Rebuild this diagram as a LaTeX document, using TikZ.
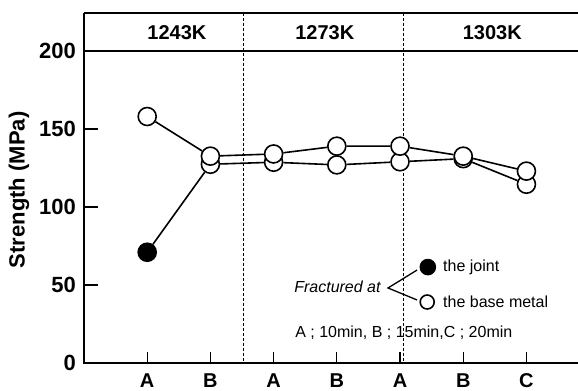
\documentclass[tikz,border=0pt]{standalone}
\usepackage{fontspec}
\setmainfont{Liberation Sans}
\begin{document}
\begin{tikzpicture}[x=63.2pt, y=1.56pt,
    opn/.style={circle, draw, line width=1.6pt, fill=white, minimum size=18pt, inner sep=0pt},
    sld/.style={opn, fill=black},
    big/.style={font=\bfseries\fontsize{22}{26}\selectfont},
    mid/.style={font=\bfseries\fontsize{20}{24}\selectfont},
    sml/.style={font=\fontsize{16}{19}\selectfont}]
  \useasboundingbox (-1.329,-17.31) rectangle (7.816,232.69);

  % Draw frame:
  % The axes and the header band run out to the right edge.
  \draw[line width=2.4pt] (0,224.4) -- (0,0) -- (7.816,0);
  \draw[line width=2.4pt] (0,224.4) -- (7.816,224.4);
  \draw[line width=2.4pt] (0,200) -- (7.816,200);
  % Temperature separators
  \draw[line width=0.8pt, dash pattern=on 3pt off 2pt] (2.52,224.4) -- (2.52,0);
  \draw[line width=0.8pt, dash pattern=on 3pt off 2pt] (5.05,224.4) -- (5.05,0);

  % Header labels
  \node[mid] (h1) at (1.47,211.5) {1243K};
  \node[mid] (h2) at (3.81,211.5) {1273K};
  \node[mid] (h3) at (6.46,211.5) {1303K};

  % Draw y-axis ticks and labels (in MPa)
  \foreach \y in {0,50,100,150} {
    \draw[line width=1.2pt] (0,\y) -- (0.22,\y);
  }
  \foreach \y in {0,50,100,150,200} {
    \node[big, anchor=east, inner sep=0pt] (t\y) at (-0.125,\y) {\y};
  }
  \node[big, rotate=90] (ylab) at (-1.03,111) {Strength (MPa)};

  % Draw x-axis ticks (holding time)
  \foreach \x/\t in {1/A,2/B,3/A,4/B,5/A,6/B,7/C} {
    \draw[line width=1.2pt] (\x,0) -- (\x,7);
    \node[mid] (x\x) at (\x,-11) {\t};
  }

  % Data points: (time, strength in MPa)
  \node[sld] (j1) at (1,71) {};      % fractured at the joint
  \foreach \x/\v in {2/127.4,3/128.7,4/127,5/129,6/131,7/114.6} {
    \node[opn] (j\x) at (\x,\v) {};
  }
  \foreach \x/\v in {1/158,2/132.6,3/134,4/139,5/139,6/132.6,7/123} {
    \node[opn] (m\x) at (\x,\v) {};
  }
  % Connect the two series
  \draw[line width=1.6pt] (j1) -- (j2) -- (j3) -- (j4) -- (j5) -- (j6) -- (j7);
  \draw[line width=1.6pt] (m1) -- (m2) -- (m3) -- (m4) -- (m5) -- (m6) -- (m7);

  % Legend
  \node[sml, font=\itshape\fontsize{16}{19}\selectfont] (frac) at (4.01,48.7) {Fractured at};
  \coordinate (vtx) at (4.81,48.1);
  \coordinate (up) at (5.27,59.6);
  \coordinate (lo) at (5.27,40.4);
  \draw[line width=1.3pt] (up) -- (vtx) -- (lo);
  \node[sld, minimum size=15pt] (lj) at (5.44,61.5) {};
  \node[opn, minimum size=14pt] (lm) at (5.43,39.1) {};
  \node[sml, anchor=west, inner sep=0pt] (tj) at (5.68,61.5) {the joint};
  \node[sml, anchor=west, inner sep=0pt] (tm) at (5.68,39.1) {the base metal};
  \node[sml] (key) at (5.06,19.2) {A ; 10min, B ; 15min,C ; 20min};
\end{tikzpicture}
\end{document}
